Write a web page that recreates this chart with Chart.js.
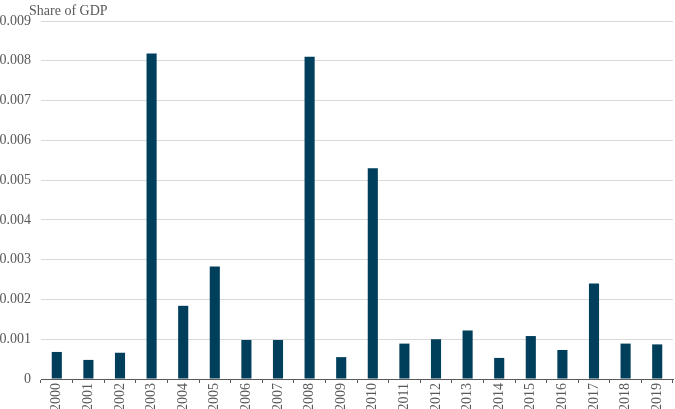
<!DOCTYPE html>
<html>
<head>
<meta charset="utf-8">
<script src="https://cdn.jsdelivr.net/npm/chart.js@4/dist/chart.umd.min.js"></script>
<style>
  html, body { margin: 0; padding: 0; background: #fff; }
  #wrap { width: 675px; height: 409px; }
</style>
</head>
<body>
<div id="wrap"><canvas id="gdpChart"></canvas></div>
<script>
// Dados do gráfico
const years = ["2000", "2001", "2002", "2003", "2004", "2005", "2006", "2007", "2008", "2009",
  "2010", "2011", "2012", "2013", "2014", "2015", "2016", "2017", "2018", "2019"];
const shareOfGdp = [0.00068, 0.00048, 0.00066, 0.00818, 0.00184, 0.00283, 0.00098, 0.00098, 0.0081, 0.00055,
  0.0053, 0.00089, 0.001, 0.00122, 0.00053, 0.00108, 0.00073, 0.0024, 0.00089, 0.00087];
const yMin = 0;
const yMax = 0.009;
const yStep = 0.001;
const axisTitle = "Share of GDP";

const serif = "'Liberation Serif', 'DejaVu Serif', serif";
const textColor = "#595959";

// Plugin para desenhar o título do eixo no canto superior esquerdo
const axisTitlePlugin = {
  id: "axisTitle",
  afterDraw(chart) {
    const c = chart.ctx;
    c.save();
    c.font = "14px " + serif;
    c.fillStyle = textColor;
    c.textAlign = "left";
    c.textBaseline = "alphabetic";
    c.fillText(axisTitle, 29, 15);
    c.restore();
  }
};

const ctx = document.getElementById("gdpChart").getContext("2d");
const gdpChart = new Chart(ctx, {
  type: "bar",
  data: {
    labels: years,
    datasets: [{
      label: axisTitle,
      data: shareOfGdp,
      backgroundColor: "#003f5c",
      barPercentage: 0.32,
      categoryPercentage: 1.0
    }]
  },
  options: {
    responsive: true,
    maintainAspectRatio: false,
    animation: false,
    layout: { padding: { left: 0, right: 2, top: 21, bottom: 0 } },
    plugins: {
      legend: { display: false },
      tooltip: { enabled: false }
    },
    scales: {
      x: {
        grid: { display: true, drawOnChartArea: false, drawTicks: true, tickLength: 4, color: "#595959", offset: true },
        border: { display: true, color: "#595959", width: 1 },
        afterFit(scale) { scale.height = 30; },
        ticks: {
          color: textColor,
          font: { family: serif, size: 14 },
          maxRotation: 90,
          minRotation: 90,
          autoSkip: false,
          padding: 0
        }
      },
      y: {
        min: yMin,
        max: yMax,
        grid: { color: "#d9d9d9", drawTicks: false },
        border: { display: false },
        afterFit(scale) { scale.width = 41; },
        ticks: {
          stepSize: yStep,
          color: textColor,
          font: { family: serif, size: 14 },
          padding: 10,
          callback: function (v) { return v === 0 ? "0" : v.toFixed(3); }
        }
      }
    }
  },
  plugins: [axisTitlePlugin]
});
</script>
</body>
</html>
